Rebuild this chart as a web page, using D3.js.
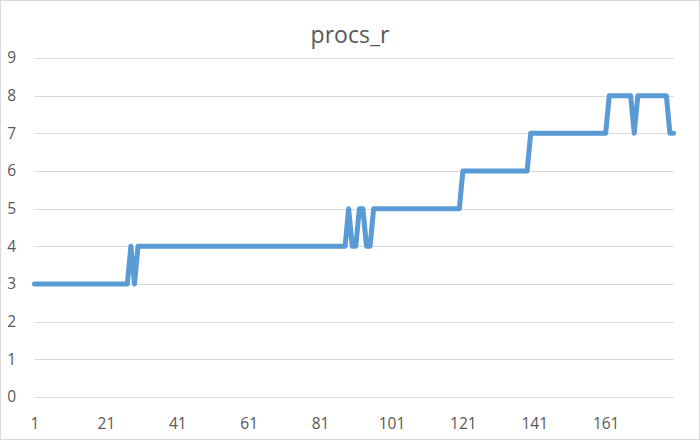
<!DOCTYPE html>
<html>
<head>
<meta charset="utf-8">
<script src="https://cdn.jsdelivr.net/npm/d3@7/dist/d3.min.js"></script>
<style>
  html, body { margin: 0; padding: 0; background: #fff; }
  svg { display: block; }
</style>
</head>
<body>
<svg id="chart" width="700" height="440"></svg>
<script>
const title = "procs_r";
const values = [
  3,3,3,3,3,3,3,3,3,3,3,3,3,3,3,3,3,3,3,3,
  3,3,3,3,3,3,3,4,3,4,4,4,4,4,4,4,4,4,4,4,
  4,4,4,4,4,4,4,4,4,4,4,4,4,4,4,4,4,4,4,4,
  4,4,4,4,4,4,4,4,4,4,4,4,4,4,4,4,4,4,4,4,
  4,4,4,4,4,4,4,4,5,4,4,5,5,4,4,5,5,5,5,5,
  5,5,5,5,5,5,5,5,5,5,5,5,5,5,5,5,5,5,5,5,
  6,6,6,6,6,6,6,6,6,6,6,6,6,6,6,6,6,6,6,7,
  7,7,7,7,7,7,7,7,7,7,7,7,7,7,7,7,7,7,7,7,
  7,8,8,8,8,8,8,8,7,8,8,8,8,8,8,8,8,8,7,7
];
const categories = values.map((v, i) => i + 1);
const xTickLabels = [1, 21, 41, 61, 81, 101, 121, 141, 161];
const yTicks = [0, 1, 2, 3, 4, 5, 6, 7, 8, 9];

const svg = d3.select("#chart");
const W = 700, H = 440;
const font = "'Open Sans', 'Noto Sans', sans-serif";

svg.append("rect")
  .attr("x", 0.5).attr("y", 0.5)
  .attr("width", W - 1).attr("height", H - 1)
  .attr("fill", "#fff").attr("stroke", "#d9d9d9");

const x = d3.scalePoint().domain(categories).range([34.5, 673.5]);
const y = d3.scaleLinear().domain([0, 9]).range([397, 58]);

// gridlines
svg.append("g")
  .selectAll("line")
  .data(yTicks)
  .join("line")
  .attr("x1", 34.5).attr("x2", 673.5)
  .attr("y1", d => Math.round(y(d)) + 0.5)
  .attr("y2", d => Math.round(y(d)) + 0.5)
  .attr("stroke", "#d9d9d9")
  .attr("stroke-width", 1);

// y axis labels
const yAxis = d3.axisLeft(y).tickValues(yTicks).tickSize(0).tickPadding(0);
const gy = svg.append("g").attr("transform", "translate(16,0)").call(yAxis);
gy.select(".domain").remove();
gy.selectAll("text")
  .attr("fill", "#595959")
  .style("font-family", font)
  .style("font-size", "15.5px");

// x axis labels
const xAxis = d3.axisBottom(x).tickValues(xTickLabels).tickSize(0).tickPadding(0);
const gx = svg.append("g").attr("transform", "translate(0,418)").call(xAxis);
gx.select(".domain").remove();
gx.selectAll("text")
  .attr("fill", "#595959")
  .style("font-family", font)
  .style("font-size", "15.5px");

// line
const line = d3.line()
  .x((d, i) => x(categories[i]))
  .y(d => y(d));

svg.append("path")
  .datum(values)
  .attr("d", line)
  .attr("fill", "none")
  .attr("stroke", "#5b9bd5")
  .attr("stroke-width", 5)
  .attr("stroke-linejoin", "round")
  .attr("stroke-linecap", "round");

// title
svg.append("text")
  .attr("x", 350).attr("y", 43)
  .attr("text-anchor", "middle")
  .attr("fill", "#595959")
  .style("font-family", font)
  .style("font-size", "23px")
  .text(title);
</script>
</body>
</html>
